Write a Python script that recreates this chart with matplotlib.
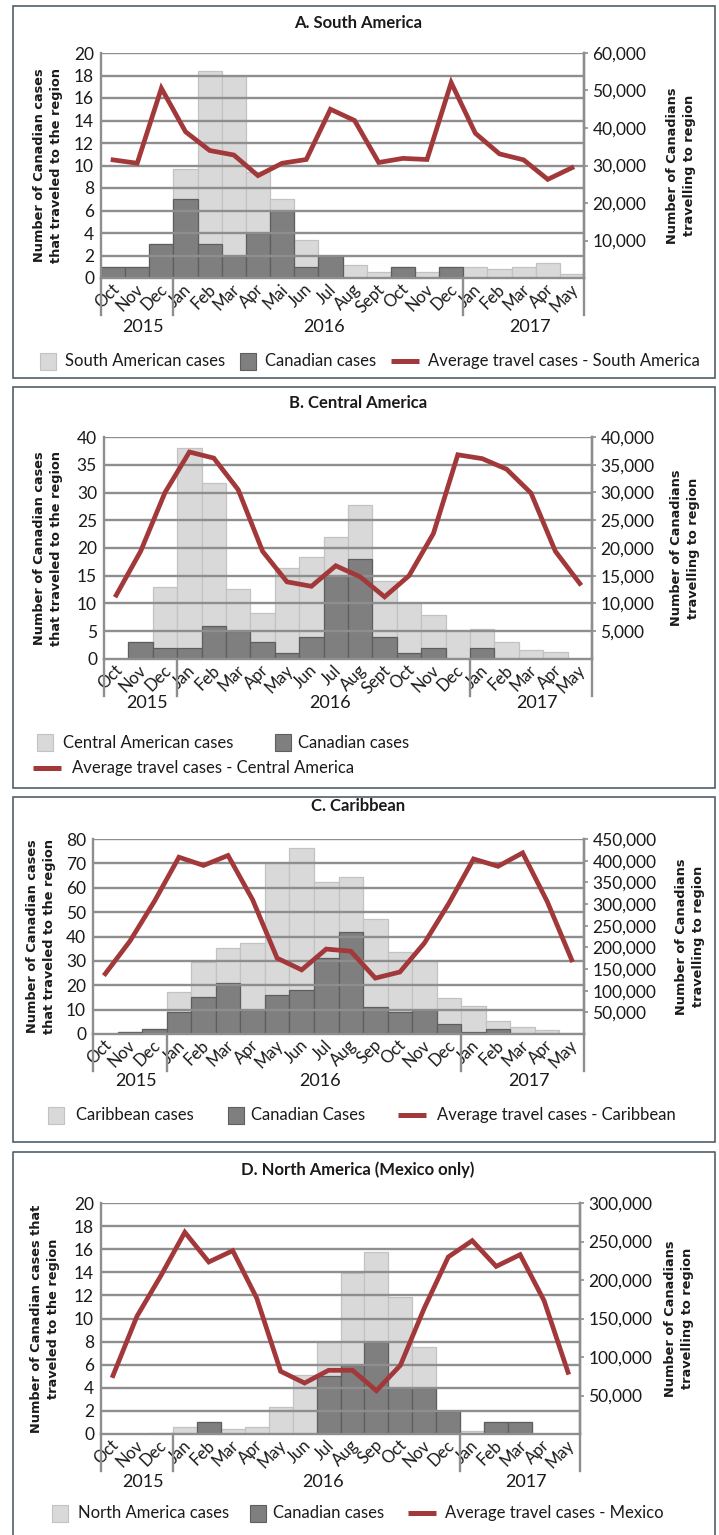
import matplotlib
matplotlib.use("Agg")
import matplotlib.pyplot as plt
from matplotlib.patches import Rectangle
from matplotlib.lines import Line2D
from matplotlib.ticker import FuncFormatter, FixedLocator
import matplotlib.transforms as mtransforms

# ---------------------------------------------------------------- data
years = ["2015", "2016", "2017"]
year_counts = [3, 12, 5]

months_a = ["Oct", "Nov", "Dec", "Jan", "Feb", "Mar", "Apr", "Mai", "Jun", "Jul",
            "Aug", "Sept", "Oct", "Nov", "Dec", "Jan", "Feb", "Mar", "Apr", "May"]
months_b = ["Oct", "Nov", "Dec", "Jan", "Feb", "Mar", "Apr", "May", "Jun", "Jul",
            "Aug", "Sept", "Oct", "Nov", "Dec", "Jan", "Feb", "Mar", "Apr", "May"]
months_cd = ["Oct", "Nov", "Dec", "Jan", "Feb", "Mar", "Apr", "May", "Jun", "Jul",
             "Aug", "Sep", "Oct", "Nov", "Dec", "Jan", "Feb", "Mar", "Apr", "May"]

# A. South America
sa_regional = [1, 1, 3, 9.7, 18.4, 18.0, 9.4, 7.0, 3.4, 2, 1.2, 0.5, 1, 0.5, 1,
               1.0, 0.8, 1.0, 1.3, 0.4]
sa_canadian = [1, 1, 3, 7, 3, 2, 4, 6, 1, 2, 0, 0, 1, 0, 1, 0, 0, 0, 0, 0]
sa_travel = [31500, 30600, 50600, 39000, 34000, 32800, 27300, 30600, 31600, 45000,
             42000, 30800, 31900, 31600, 52100, 38600, 33100, 31500, 26300, 29400]

# B. Central America
ca_regional = [0, 3, 13.0, 38.0, 31.8, 12.6, 8.3, 16.4, 18.4, 22.0, 27.8, 14.1,
               10.0, 7.9, 5.0, 5.4, 3.1, 1.6, 1.3, 0]
ca_canadian = [0, 3, 2, 2, 6, 5, 3, 1, 4, 15, 18, 4, 1, 2, 0, 2, 0, 0, 0, 0]
ca_travel = [11500, 19400, 30000, 37300, 36200, 30500, 19400, 13900, 13100, 16800,
             14800, 11200, 15000, 22600, 36800, 36100, 34200, 29900, 19400, 13600]

# C. Caribbean
car_regional = [0, 1, 2, 17.3, 29.6, 35.3, 37.4, 70.0, 76.3, 62.3, 64.5, 47.0,
                33.7, 30.0, 14.7, 11.4, 5.3, 3.0, 1.8, 0.4]
car_canadian = [0, 1, 2, 9, 15, 21, 10, 16, 18, 31, 42, 11, 9, 10, 4, 1, 2, 0, 0, 0]
car_travel = [139000, 214000, 306000, 408000, 389000, 412000, 310000, 175000,
              148000, 196000, 191000, 129000, 143000, 210000, 302000, 404000,
              387000, 418000, 306000, 171000]

# D. North America (Mexico only)
mx_regional = [0, 0, 0.1, 0.6, 1, 0.46, 0.58, 2.3, 5.1, 8.0, 13.9, 15.8, 11.9,
               7.5, 2, 0.3, 1, 1, 0, 0]
mx_canadian = [0, 0, 0, 0, 1, 0, 0, 0, 0, 5, 6, 8, 4, 4, 2, 0, 1, 1, 0, 0]
mx_travel = [75800, 152800, 205600, 262000, 223400, 238100, 176600, 81400, 66200,
             82700, 82700, 56300, 89200, 163600, 229900, 251100, 217700, 232900,
             173200, 80100]

# ---------------------------------------------------------------- styling
W, H, DPI = 719, 1535, 100
LIGHT, LIGHT_EDGE = "#d9d9d9", "#c2c2c2"
DARK, DARK_EDGE = "#7f7f7f", "#5e5e5e"
LINE = "#a2383a"
GRID = "#8e8e8e"
BOX = "#50606c"
TXT = "#1a1a1a"
SANS = ["Lato", "DejaVu Sans"]
BOLD_LABEL = ["DejaVu Sans"]

plt.rcParams["font.family"] = SANS

fig = plt.figure(figsize=(W / DPI, H / DPI), dpi=DPI)
fig.patch.set_facecolor("white")


def fx(x):
    return x / W


def fy(y):
    return 1 - y / H


def panel_box(top, bottom):
    fig.patches.append(Rectangle((fx(12.5), fy(bottom)), fx(715) - fx(12.5),
                                 fy(top) - fy(bottom), transform=fig.transFigure,
                                 fill=False, edgecolor=BOX, linewidth=1.2))


def legend_entry(kind, x0, y, label, text_x):
    if kind == "line":
        fig.lines.append(Line2D([fx(x0), fx(x0 + 28)], [fy(y), fy(y)],
                                transform=fig.transFigure, color=LINE,
                                linewidth=3.6, solid_capstyle="butt"))
    else:
        fc, ec = (LIGHT, LIGHT_EDGE) if kind == "light" else (DARK, DARK_EDGE)
        fig.patches.append(Rectangle((fx(x0), fy(y + 8.5)), fx(16), 17 / H,
                                     transform=fig.transFigure, facecolor=fc,
                                     edgecolor=ec, linewidth=0.8))
    fig.text(fx(text_x), fy(y), label, ha="left", va="center", fontsize=12,
             color=TXT)


def draw_panel(title, rect, months, regional, canadian, travel, left_max,
               left_step, right_max, right_step, ylabel_left, ylabel_x,
               title_y, year_y_off):
    left, top, right, bottom = rect
    ax = fig.add_axes([fx(left), fy(bottom), fx(right) - fx(left),
                       fy(top) - fy(bottom)])
    n = len(months)
    x = list(range(n))

    ax.bar(x, regional, width=1.0, color=LIGHT, edgecolor=LIGHT_EDGE,
           linewidth=0.9, zorder=1)
    ax.bar(x, canadian, width=1.0, color=DARK, edgecolor=DARK_EDGE,
           linewidth=0.9, zorder=2)

    ax.set_xlim(-0.5, n - 0.5)
    ax.set_ylim(0, left_max)
    yt = list(range(0, left_max + 1, left_step))
    ax.set_yticks(yt)
    ax.set_yticklabels([str(v) for v in yt])
    for v in yt[1:]:
        ax.axhline(v, color=GRID, linewidth=1.7, zorder=2.5)
    ax.tick_params(axis="y", length=0, pad=5, labelsize=12.5, colors=TXT)
    ax.set_xticks([])
    ax.spines["top"].set_visible(False)
    for s in ("left", "right", "bottom"):
        ax.spines[s].set_color(GRID)
        ax.spines[s].set_linewidth(1.7)
    ax.spines["bottom"].set_zorder(3)

    ax2 = ax.twinx()
    ax2.plot(x, travel, color=LINE, linewidth=3.4, zorder=4,
             solid_joinstyle="miter")
    ax2.set_ylim(0, right_max)
    rt = list(range(right_step, right_max + 1, right_step))
    ax2.yaxis.set_major_locator(FixedLocator(rt))
    ax2.yaxis.set_major_formatter(FuncFormatter(lambda v, p: f"{int(v):,}"))
    ax2.tick_params(axis="y", length=3, width=1.2, color=GRID, pad=3,
                    labelsize=12.5, labelcolor=TXT)
    for s in ("top", "left", "bottom"):
        ax2.spines[s].set_visible(False)
    ax2.spines["right"].set_color(GRID)
    ax2.spines["right"].set_linewidth(1.7)

    # month labels, rotated under each bar
    for i, m in enumerate(months):
        ax.annotate(m, xy=(i, 0), xycoords=("data", "axes fraction"),
                    xytext=(9, -3), textcoords="offset pixels", rotation=45,
                    ha="right", va="top", fontsize=12, color=TXT,
                    annotation_clip=False)

    # year group separators and labels
    axh = bottom - top
    sep_frac = -37 / axh
    trans = mtransforms.blended_transform_factory(ax.transData, ax.transAxes)
    edge = -0.5
    edges = [edge]
    for c in year_counts:
        edge += c
        edges.append(edge)
    for e in edges:
        ax.add_line(Line2D([e, e], [0, sep_frac], transform=trans, color=GRID,
                           linewidth=1.7, clip_on=False, zorder=3))
    for k, yr in enumerate(years):
        mid = (edges[k] + edges[k + 1]) / 2
        ax.annotate(yr, xy=(mid, 0), xycoords=("data", "axes fraction"),
                    xytext=(6, -year_y_off), textcoords="offset pixels",
                    ha="center", va="center", fontsize=13, color=TXT,
                    annotation_clip=False)

    cy = (top + bottom) / 2
    fig.text(fx(ylabel_x[0]), fy(cy), ylabel_left, rotation=90, ha="center",
             va="center", fontsize=9.3, fontweight="bold", family=BOLD_LABEL,
             color=TXT, linespacing=1.45)
    fig.text(fx(ylabel_x[1]), fy(cy), "Number of Canadians\ntravelling to region",
             rotation=90, ha="center", va="center", fontsize=9.3,
             fontweight="bold", family=BOLD_LABEL, color=TXT, linespacing=1.45)
    fig.text(fx(358), fy(title_y), title, ha="center", va="center",
             fontsize=12, fontweight="bold", color=TXT)
    return ax


LBL = "Number of Canadian cases\nthat traveled to the region"

# A
panel_box(6.5, 377.5)
draw_panel("A. South America", (101, 53, 584, 278), months_a, sa_regional,
           sa_canadian, sa_travel, 20, 2, 60000, 10000, LBL, (48, 681), 23, 49)
legend_entry("light", 40, 361, "South American cases", 65)
legend_entry("dark", 240, 361, "Canadian cases", 265)
legend_entry("line", 391, 361, "Average travel cases - South America", 428)

# B
panel_box(386.5, 787.5)
draw_panel("B. Central America", (104, 437, 592, 659), months_b, ca_regional,
           ca_canadian, ca_travel, 40, 5, 40000, 5000, LBL, (48, 685), 403, 44)
legend_entry("light", 37, 743, "Central American cases", 63)
legend_entry("dark", 275, 743, "Canadian cases", 298)
legend_entry("line", 33, 768, "Average travel cases - Central America", 72)

# C
panel_box(796.5, 1141.5)
draw_panel("C. Caribbean", (93, 839, 584, 1034), months_cd, car_regional,
           car_canadian, car_travel, 80, 10, 450000, 50000, LBL, (41, 690),
           806, 47)
legend_entry("light", 48, 1115, "Caribbean cases", 76)
legend_entry("dark", 228, 1115, "Canadian Cases", 251)
legend_entry("line", 398, 1115, "Average travel cases - Caribbean", 437)

# D
fig.lines.append(Line2D([fx(12.5), fx(12.5), fx(715), fx(715)],
                        [0, fy(1151.5), fy(1151.5), 0], transform=fig.transFigure,
                        color=BOX, linewidth=1.2))
draw_panel("D. North America (Mexico only)", (101, 1203, 580, 1434), months_cd,
           mx_regional, mx_canadian, mx_travel, 20, 2, 300000, 50000,
           "Number of Canadian cases that\ntraveled to the region", (45, 679),
           1170, 48)
legend_entry("light", 52, 1513, "North America cases", 78)
legend_entry("dark", 250, 1513, "Canadian cases", 273)
legend_entry("line", 408, 1513, "Average travel cases - Mexico", 445)

fig.savefig("out.png", dpi=DPI, facecolor="white")
